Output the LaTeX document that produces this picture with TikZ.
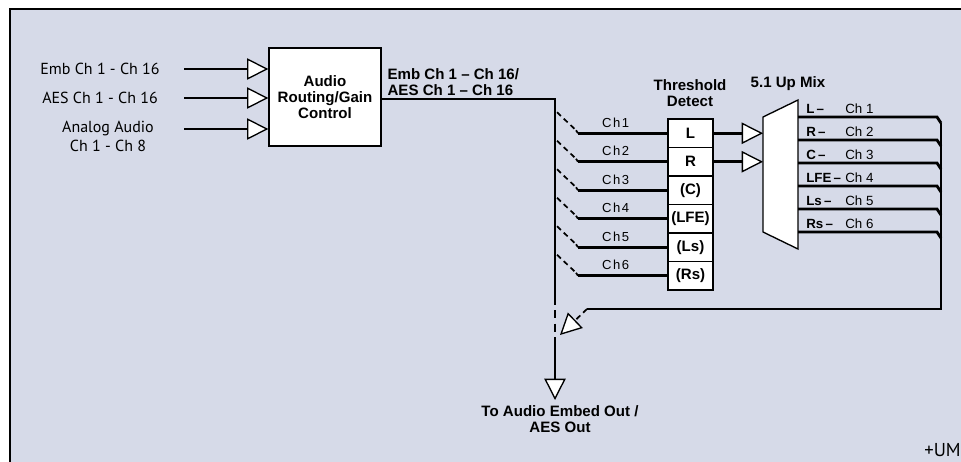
\documentclass[tikz,border=0pt]{standalone}
\usepackage{fontspec}
\setmainfont{Liberation Sans}
\newfontfamily\inputfont{PT Sans}
\newfontfamily\chfont[LetterSpace=12]{Liberation Sans}
\usetikzlibrary{arrows.meta, positioning, calc}
\definecolor{panelbg}{RGB}{214,218,232}

\begin{document}
\begin{tikzpicture}[x=0.75pt, y=-0.75pt,
    sig/.style={line width=2.1pt},
    opentip/.style={-{Triangle[fill=white, line width=1pt, length=16pt, width=16pt]}},
    swdash/.style={line width=1.3pt, dash pattern=on 4pt off 3pt},
    blk/.style={draw, fill=white, line width=1pt, align=center,
                font=\bfseries\fontsize{11.3}{12.2}\selectfont},
    cell/.style={draw, fill=white, line width=0.9pt, minimum width=33.75pt,
                 minimum height=21.4pt, inner sep=0pt,
                 font=\bfseries\fontsize{11.3}{12}\selectfont},
    hdr/.style={font=\bfseries\fontsize{11.3}{12}\selectfont, align=center},
    inlbl/.style={font=\inputfont\fontsize{12}{14.3}\selectfont, align=center},
    chlbl/.style={font=\chfont\fontsize{9.8}{10}\selectfont},
    mixlbl/.style={font=\bfseries\fontsize{10}{10}\selectfont, anchor=west, inner sep=0pt},
    mixch/.style={font=\fontsize{10}{10}\selectfont, anchor=west, inner sep=0pt}
  ]
    \clip (0,0) rectangle (961,461);
    \fill[white] (0,0) rectangle (961,461);
    \draw[line width=1.6pt, fill=panelbg] (10,9) rectangle (990,490);

    % inputs
    \node[inlbl] (inEmb) at (100,69) {Emb Ch 1 - Ch 16};
    \node[inlbl] (inAES) at (100,98) {AES Ch 1 - Ch 16};
    \node[inlbl] (inAna) at (108,136) {Analog Audio\\Ch 1 - Ch 8};
    \node[blk, minimum width=84pt, minimum height=73.5pt] (route) at (325,97)
      {Audio\\Routing/Gain\\Control};
    \foreach \n/\yy in {1/69,2/98,3/129} {
      \coordinate (in\n) at (184,\yy);
      \draw[sig, opentip] (in\n) -- (in\n -| route.west);
    }

    % output bus
    \coordinate (busTop) at (555,99);
    \coordinate (busSw) at (555,297);
    \coordinate (busLow) at (555,343);
    \coordinate (busEnd) at (555,400);
    \draw[sig] (route.east |- busTop) -- (busTop) -- (busSw);
    \draw[sig, dash pattern=on 6pt off 4pt] (busSw) -- (busLow);
    \draw[sig, opentip] (busLow) -- (busEnd);
    \node[hdr, align=left, anchor=south west, inner sep=1pt] (busLbl) at (386,97)
      {Emb Ch 1 -- Ch 16/\\AES Ch 1 -- Ch 16};
    \node[hdr] (outLbl) at (560,419) {To Audio Embed Out /\\AES Out};

    % threshold detect
    \node[hdr] (thLbl) at (690,93) {Threshold\\Detect};
    \foreach \lab [count=\i] in {L,R,{(C)},{(LFE)},{(Ls)},{(Rs)}} {
      \node[cell] (th\i) at (690.5,{119+28.5*(\i-0.5)}) {\lab};
      \coordinate (tap\i) at (578,{119+28.5*(\i-0.5)});
      \draw[sig] (tap\i) -- (th\i.west) node[chlbl, pos=0.42, above=0pt] {Ch\i};
      \draw[swdash] ($(tap\i)+(-21,-21)$) -- ($(tap\i)+(-2,-3)$);
      \draw[line width=1.3pt] ($(tap\i)+(-2,-3)$) -- (tap\i);
    }

    % 5.1 up mix
    \node[hdr] (mixLbl) at (788,84) {5.1 Up Mix};
    \coordinate (mixW) at (763,117);
    \draw[line width=1pt, fill=white] (mixW) -- (798,100) -- (798,249) -- (763,232) -- cycle;
    \draw[sig, opentip] (th1.east) -- (th1.east -| mixW);
    \draw[sig, opentip] (th2.east) -- (th2.east -| mixW);
    \foreach \nm/\j in {L/1,R/2,C/3,LFE/4,Ls/5,Rs/6} {
      \coordinate (mo\j) at (798,{117+23*(\j-1)});
      \draw[sig] (mo\j) -- ++(139,0) -- ++(4,6);
      \node[mixlbl] (ml\j) at ($(mo\j)+(8,-8)$) {\nm\,--};
      \node[mixch] (mc\j) at ($(mo\j)+(47,-8)$) {Ch \j};
    }

    % return path
    \coordinate (retTop) at (941,123);
    \coordinate (retCorner) at (941,309);
    \coordinate (retEnd) at (587,309);
    \coordinate (retTip) at (560,335);
    \draw[sig] (retTop) -- (retCorner) -- (retEnd);
    \draw[swdash, opentip] (retEnd) -- (retTip);

    \node[inlbl, font=\inputfont\fontsize{14}{16}\selectfont, anchor=east, inner sep=0pt] (um) at (961,450) {+UM};
  \end{tikzpicture}
\end{document}
